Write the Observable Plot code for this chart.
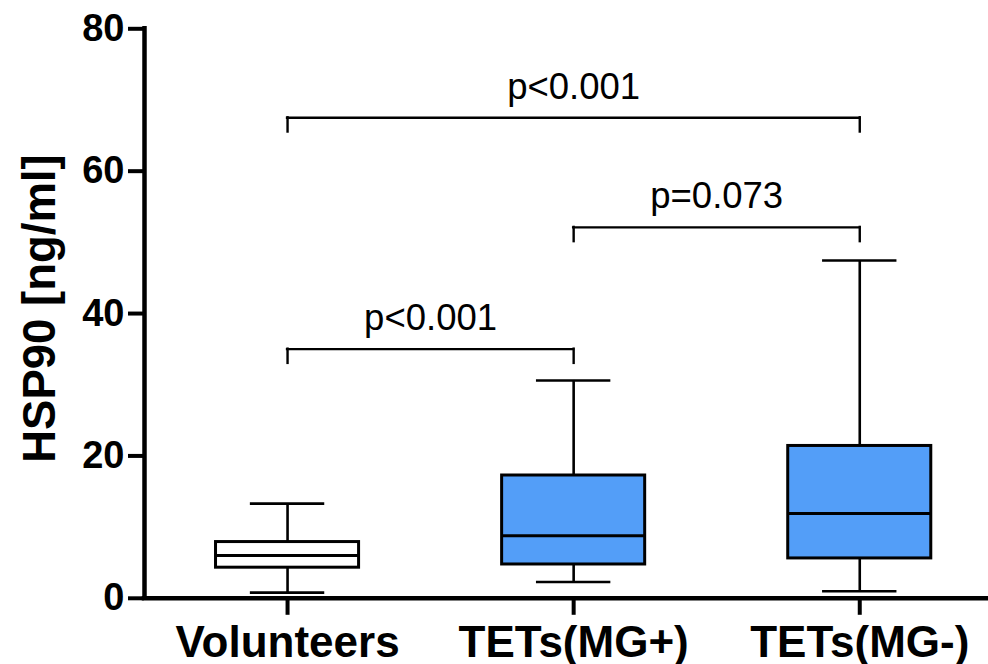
<!DOCTYPE html>
<html><head><meta charset="utf-8">
<script src="https://cdn.jsdelivr.net/npm/d3@7"></script>
<script src="https://cdn.jsdelivr.net/npm/@observablehq/plot@0.6"></script>
<style>
body{margin:0;background:#fff}
svg{font-family:"Liberation Sans", Arial, sans-serif; overflow:visible}
</style>
</head><body><div id="chart"></div>
<script>
// Data
const groups = ["Volunteers", "TETs(MG+)", "TETs(MG-)"];
const whiskerLow = [0.8, 2.3, 1.0];
const q1 = [4.3, 4.75, 5.6];
const median = [6.0, 8.8, 11.9];
const q3 = [7.9, 17.25, 21.4];
const whiskerHigh = [13.3, 30.6, 47.45];
const fills = ["#ffffff", "#539ef8", "#539ef8"];
const yTicks = [0, 20, 40, 60, 80];

const bracketFrom = ["Volunteers", "TETs(MG+)", "Volunteers"];
const bracketTo = ["TETs(MG-)", "TETs(MG-)", "TETs(MG+)"];
const bracketY = [67.5, 52.1, 35.0];
const bracketDrop = [2.0, 2.0, 2.0];
const bracketLabel = ["p<0.001", "p=0.073", "p<0.001"];

const boxes = groups.map((g, i) => ({
  g, i, lo: whiskerLow[i], q1: q1[i], med: median[i], q3: q3[i], hi: whiskerHigh[i], fill: fills[i]
}));
const brackets = bracketLabel.map((t, k) => ({
  a: groups.indexOf(bracketFrom[k]), b: groups.indexOf(bracketTo[k]),
  y: bracketY[k], y0: bracketY[k] - bracketDrop[k], label: t
}));
const ends = brackets.flatMap(d => [{x: d.a, y1: d.y0, y2: d.y}, {x: d.b, y1: d.y0, y2: d.y}]);

const boxHalf = 0.25, capHalf = 0.13;
const xMin = -0.5;

const chart = Plot.plot({
  width: 988,
  height: 664,
  marginLeft: 144,
  marginRight: 0,
  marginTop: 28.3,
  marginBottom: 66.2,
  x: {type: "linear", domain: [xMin, 2.45]},
  y: {domain: [0, 80]},
  marks: [
    // axes lines
    Plot.ruleX([xMin], {y1: 0, y2: 80, stroke: "black", strokeWidth: 4.5, strokeLinecap: "square"}),
    Plot.ruleY([0], {stroke: "black", strokeWidth: 4.5, strokeLinecap: "square"}),
    Plot.axisY({ticks: yTicks, tickSize: 16, tickPadding: 4, strokeWidth: 4, fontSize: 38, fontWeight: "bold", label: null, fill: "black"}),
    Plot.axisX({ticks: [0, 1, 2], tickFormat: i => groups[i], tickSize: 17, tickPadding: 10, strokeWidth: 4, fontSize: 44, fontWeight: "bold", label: null, fill: "black"}),
    Plot.text(["HSP90 [ng/ml]"], {frameAnchor: "left", textAnchor: "middle", lineAnchor: "middle", rotate: -90, dx: -104, dy: -5, fontSize: 45.5, fontWeight: "bold", fill: "black"}),
    // whiskers
    Plot.ruleX(boxes, {x: "i", y1: "lo", y2: "q1", stroke: "black", strokeWidth: 2.6}),
    Plot.ruleX(boxes, {x: "i", y1: "q3", y2: "hi", stroke: "black", strokeWidth: 2.6}),
    Plot.ruleY(boxes, {x1: d => d.i - capHalf, x2: d => d.i + capHalf, y: "hi", stroke: "black", strokeWidth: 2.6}),
    Plot.ruleY(boxes, {x1: d => d.i - capHalf, x2: d => d.i + capHalf, y: "lo", stroke: "black", strokeWidth: 2.6}),
    // boxes
    Plot.rect(boxes, {x1: d => d.i - boxHalf, x2: d => d.i + boxHalf, y1: "q1", y2: "q3", fill: "fill", stroke: "black", strokeWidth: 3}),
    Plot.ruleY(boxes, {x1: d => d.i - boxHalf, x2: d => d.i + boxHalf, y: "med", stroke: "black", strokeWidth: 3}),
    // significance brackets
    Plot.ruleY(brackets, {x1: "a", x2: "b", y: "y", stroke: "black", strokeWidth: 2.4, strokeLinecap: "square"}),
    Plot.ruleX(ends, {x: "x", y1: "y1", y2: "y2", stroke: "black", strokeWidth: 2.4, strokeLinecap: "square"}),
    Plot.text(brackets, {x: d => (d.a + d.b) / 2, y: "y", text: "label", dy: -19, lineAnchor: "bottom", fontSize: 36.5, fill: "black"})
  ]
});
document.getElementById("chart").appendChild(chart);
</script>
</body></html>
